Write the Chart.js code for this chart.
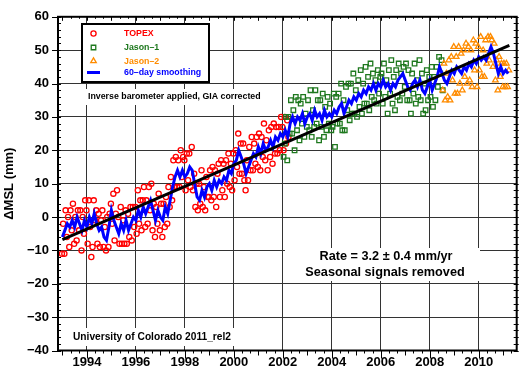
<!DOCTYPE html>
<html>
<head>
<meta charset="utf-8">
<script src="https://cdn.jsdelivr.net/npm/chart.js@4/dist/chart.umd.min.js"></script>
<style>html,body{margin:0;padding:0;background:#fff}</style>
</head>
<body>
<canvas id="msl" width="522" height="372"></canvas>
<script>
// time base of each series (decimal years), values in mm
const topexStart = 1992.98, jason1Start = 2002.03, jason2Start = 2008.53, cycleStep = 0.05;
const smoothStart = 1993.0, smoothStep = 0.1;

const topexValues = [
  -11, -2, -11, 2, -6, 0, -9, 2, -4, 4, -8, 0, -7, 2, -4, 2, -10, 0, -5, 5,
  2, -8, 5, -3, -12, -9, 5, -1, 2, -8, 1, -9, -1, 2, -9, -3, -10, 0, -9, 1,
  4, -2, 7, -7, 1, 8, 0, -8, 3, -8, -1, -8, 2, -8, 1, -6, 3, -7, 3, -3,
  3, -5, 8, -2, 5, -4, 5, 9, -3, 5, -2, 9, 2, 10, -4, 4, -6, 3, -2, 7,
  -4, 4, -6, 4, -3, 6, -2, 9, 3, 12, 5, 17, 9, 18, 9, 17, 9, 20, 12, 18,
  17, 8, 19, 11, 19, 9, 21, 8, 13, 3, 10, 2, 10, 4, 14, 3, 9, 2, 12, 6,
  6, 14, 5, 15, 6, 14, 3, 13, 16, 6, 17, 8, 16, 6, 17, 10, 19, 9, 16, 8,
  19, 11, 20, 15, 25, 13, 22, 13, 22, 11, 8, 17, 11, 21, 14, 24, 14, 22, 16, 24,
  15, 25, 14, 24, 18, 28, 17, 23, 14, 26, 18, 27, 16, 28, 19, 27, 19, 27, 20, 30,
  27, 20, 30, 22, 29, 24
];

const jason1Values = [
  18, 22, 30, 17, 30, 25, 35, 25, 32, 20, 36, 26, 35, 23, 34, 28, 36, 24, 31, 27,
  35, 26, 38, 24, 32, 27, 38, 28, 35, 23, 35, 27, 37, 24, 33, 26, 36, 28, 34, 26,
  27, 37, 21, 36, 28, 37, 28, 40, 26, 35, 26, 39, 32, 40, 29, 40, 31, 43, 31, 38,
  30, 41, 33, 44, 31, 40, 34, 45, 34, 42, 32, 46, 36, 43, 35, 41, 34, 44, 37, 42,
  43, 34, 46, 36, 41, 31, 44, 37, 47, 34, 42, 32, 44, 36, 46, 35, 43, 37, 45, 39,
  46, 35, 44, 35, 31, 43, 37, 46, 34, 41, 36, 47, 35, 43, 31, 40, 32, 44, 35, 42,
  36, 45, 33, 42, 35, 45, 39, 48, 43, 47, 38
];

const jason2Values = [
  38, 46, 35, 43, 36, 47, 35, 48, 41, 51, 37, 48, 37, 51, 40, 49, 38, 50, 42, 52,
  40, 51, 41, 50, 39, 53, 44, 52, 39, 51, 44, 54, 42, 50, 42, 53, 46, 54, 47, 54,
  53, 45, 52, 41, 47, 38, 48, 42, 46, 39, 46, 39, 46, 39, 44
];

const smoothValues = [
  -6, -4, -2, -3, -1, -3, 0, -2, -4, -1,
  -3, 0, -2, 1, -2, -4, -3, -6, -7, -3,
  2, -1, -3, -5, -2, -4, -1, -4, -2, 0,
  -1, 2, 0, 3, 1, 3, 5, 2, -1, 2,
  0, -1, 3, 1, 5, 9, 12, 14, 12, 14,
  12, 13, 15, 14, 10, 6, 5, 8, 6, 9,
  10, 8, 11, 9, 11, 10, 12, 11, 14, 13,
  16, 17, 20, 18, 16, 13, 15, 17, 19, 18,
  21, 19, 22, 20, 21, 23, 21, 24, 23, 25,
  24, 26, 24, 28, 30, 28, 30, 29, 31, 28,
  30, 31, 29, 32, 30, 31, 29, 32, 30, 31,
  30, 32, 31, 33, 34, 31, 33, 35, 34, 36,
  35, 37, 36, 38, 37, 39, 38, 40, 38, 40,
  39, 41, 39, 40, 38, 40, 39, 41, 42, 43,
  41, 39, 38, 40, 41, 39, 41, 38, 37, 39,
  41, 38, 40, 42, 45, 43, 41, 40, 42, 44,
  43, 45, 44, 43, 45, 44, 46, 45, 47, 46,
  48, 47, 48, 47, 49, 51, 49, 46, 43, 45,
  43, 44, 43
];

const trendYears = [1993.0, 2011.25];
const trendValues = [-6.8, 51.4];

const xTicks = [1994, 1996, 1998, 2000, 2002, 2004, 2006, 2008, 2010];
const yTicks = [-40, -30, -20, -10, 0, 10, 20, 30, 40, 50, 60];

const FONT = "'Liberation Sans', Arial, Helvetica, sans-serif";
const RED = '#ff0000', GREEN = '#1e781e', ORANGE = '#ff8c00', BLUE = '#0000ff';

const toPoints = (vals, start, step) => vals.map((v, i) => ({ x: start + i * step, y: v }));

// legend box, text boxes, frame and minor ticks
const decor = {
  id: 'decor',
  afterDatasetsDraw(chart) {
    const c = chart.ctx, a = chart.chartArea;
    const xs = chart.scales.x, ys = chart.scales.y;
    c.save();

    // white boxes behind the notes
    c.fillStyle = '#fff';
    c.fillRect(85, 89, 180, 16);
    c.fillRect(285, 248, 195, 33);
    c.fillRect(70, 328, 164, 18);

    c.fillStyle = '#000';
    c.textBaseline = 'middle';
    c.textAlign = 'left';
    c.font = 'bold 8.8px ' + FONT;
    c.fillText('Inverse barometer applied, GIA corrected', 88, 97);
    c.font = 'bold 10.2px ' + FONT;
    c.fillText('University of Colorado 2011_rel2', 73, 337);
    c.textAlign = 'center';
    c.font = 'bold 12.7px ' + FONT;
    c.fillText('Rate = 3.2 \u00b1 0.4 mm/yr', 386, 256);
    c.fillText('Seasonal signals removed', 385, 272);

    // legend
    c.fillStyle = '#fff';
    c.fillRect(82, 24, 127, 58);
    c.strokeStyle = '#000';
    c.lineWidth = 2;
    c.strokeRect(82, 24, 127, 58);
    const items = [
      { style: 'circle', color: RED, label: 'TOPEX', y: 33.5, r: 2.6 },
      { style: 'rect', color: GREEN, label: 'Jason\u20131', y: 47.5, r: 3.2 },
      { style: 'triangle', color: ORANGE, label: 'Jason\u20132', y: 61, r: 3.2 }
    ];
    c.font = 'bold 8.8px ' + FONT;
    c.textAlign = 'left';
    items.forEach(it => {
      c.strokeStyle = it.color;
      c.fillStyle = 'rgba(0,0,0,0)';
      c.lineWidth = 1.3;
      Chart.helpers.drawPoint(c, { pointStyle: it.style, radius: it.r, borderWidth: 1.3 }, 93.5, it.y);
      c.fillStyle = it.color;
      c.fillText(it.label, 124, it.y + 0.5);
    });
    c.strokeStyle = BLUE;
    c.lineWidth = 3;
    c.beginPath();
    c.moveTo(87, 72.5);
    c.lineTo(100, 72.5);
    c.stroke();
    c.fillStyle = BLUE;
    c.fillText('60\u2013day smoothing', 124, 73);

    // ticks
    c.strokeStyle = '#000';
    c.lineWidth = 1;
    c.beginPath();
    for (let v = -40; v <= 60; v += 2) {
      const y = Math.round(ys.getPixelForValue(v)) + 0.5;
      const major = v % 10 === 0;
      c.moveTo(major ? a.left - 6 : a.left, y);
      c.lineTo(a.left + 3, y);
      c.moveTo(a.right - 3, y);
      c.lineTo(a.right + 2, y);
    }
    for (let t = 1993; t <= 2011.5; t += 1 / 3) {
      const yr = Math.round(t * 3) / 3;
      if (yr < xs.min || yr > xs.max) continue;
      const x = Math.round(xs.getPixelForValue(yr)) + 0.5;
      const whole = Math.abs(yr - Math.round(yr)) < 1e-6;
      const even = whole && Math.round(yr) % 2 === 0;
      c.moveTo(x, a.bottom);
      c.lineTo(x, a.bottom + (even ? 8 : whole ? 5 : 3));
      c.moveTo(x, a.top);
      c.lineTo(x, a.top + (whole ? 4 : 2));
    }
    c.stroke();

    // frame
    c.lineWidth = 2;
    c.strokeRect(a.left, a.top, a.right - a.left, a.bottom - a.top);
    c.restore();
  }
};

new Chart(document.getElementById('msl'), {
  type: 'scatter',
  data: {
    datasets: [
      {
        label: 'trend',
        type: 'line',
        data: trendYears.map((x, i) => ({ x, y: trendValues[i] })),
        borderColor: '#000',
        borderWidth: 3,
        pointRadius: 0,
        order: 0
      },
      {
        label: '60-day smoothing',
        type: 'line',
        data: toPoints(smoothValues, smoothStart, smoothStep),
        borderColor: BLUE,
        borderWidth: 3,
        pointRadius: 0,
        order: 1
      },
      {
        label: 'Jason-2',
        data: toPoints(jason2Values, jason2Start, cycleStep),
        pointStyle: 'triangle',
        pointRadius: 3.2,
        borderColor: ORANGE,
        backgroundColor: 'rgba(0,0,0,0)',
        borderWidth: 1.3,
        order: 2
      },
      {
        label: 'Jason-1',
        data: toPoints(jason1Values, jason1Start, cycleStep),
        pointStyle: 'rect',
        pointRadius: 3.2,
        borderColor: GREEN,
        backgroundColor: 'rgba(0,0,0,0)',
        borderWidth: 1.3,
        order: 3
      },
      {
        label: 'TOPEX',
        data: toPoints(topexValues, topexStart, cycleStep),
        pointStyle: 'circle',
        pointRadius: 2.6,
        borderColor: RED,
        backgroundColor: 'rgba(0,0,0,0)',
        borderWidth: 1.3,
        order: 4
      }
    ]
  },
  options: {
    responsive: false,
    animation: false,
    devicePixelRatio: 1,
    layout: { padding: { top: 5.5, right: 4, left: 0, bottom: 0 } },
    plugins: { legend: { display: false }, tooltip: { enabled: false } },
    scales: {
      x: {
        type: 'linear',
        min: 1992.82,
        max: 2011.55,
        afterBuildTicks: s => { s.ticks = xTicks.map(v => ({ value: v })); },
        afterFit: s => { s.height = 21.5; },
        border: { display: false },
        grid: { color: '#333', lineWidth: 1, drawTicks: false },
        ticks: {
          color: '#000',
          font: { family: FONT, size: 13, weight: 'bold' },
          padding: 4,
          maxRotation: 0,
          autoSkip: false,
          callback: v => String(v)
        }
      },
      y: {
        min: -40,
        max: 60,
        afterBuildTicks: s => { s.ticks = yTicks.map(v => ({ value: v })); },
        afterFit: s => { s.width = 58; },
        border: { display: false },
        grid: { color: '#333', lineWidth: 1, drawTicks: false },
        ticks: {
          color: '#000',
          font: { family: FONT, size: 13, weight: 'bold' },
          padding: 9,
          callback: v => String(v).replace('-', '\u2212')
        },
        title: {
          display: true,
          text: '\u0394MSL (mm)',
          color: '#000',
          font: { family: FONT, size: 13, weight: 'bold' },
          padding: { top: 2, bottom: 0 }
        }
      }
    }
  },
  plugins: [decor]
});
</script>
</body>
</html>
